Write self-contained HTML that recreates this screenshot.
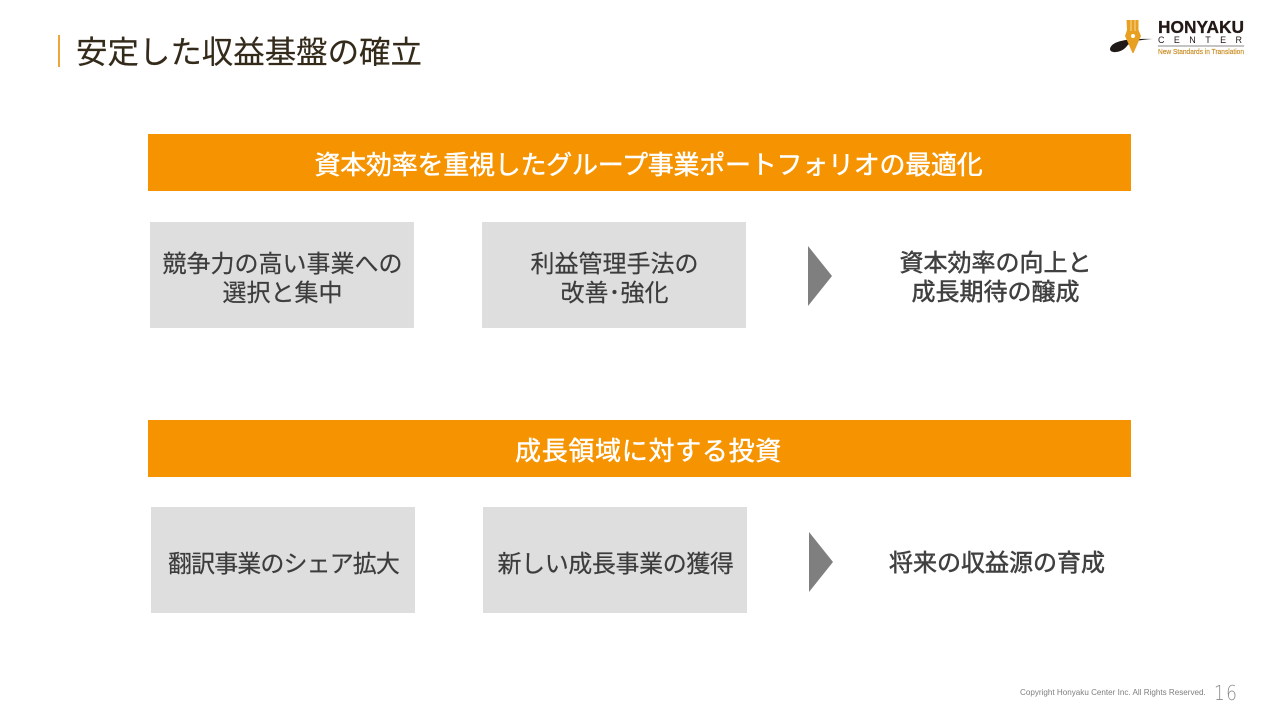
<!DOCTYPE html>
<html lang="ja">
<head>
<meta charset="utf-8">
<style>
html,body{margin:0;padding:0;background:#fff}
#s{position:relative;width:1280px;height:720px;overflow:hidden;background:#fff;font-family:"Liberation Sans","Noto Sans CJK JP",sans-serif}
.a{position:absolute}
.t{position:absolute;white-space:nowrap;text-align:center;transform:translateX(-50%)}
.bar{position:absolute;background:#f59300;left:148px;width:983px;height:56.5px}
.box{position:absolute;background:#dedede;width:264px;height:106px}
.w{color:#fff;font-size:26px;line-height:34px;font-weight:400;-webkit-text-stroke:.45px #fff}
.g{color:#3c3c3c;font-size:24px;line-height:29px;font-weight:400;-webkit-text-stroke:.2px #3c3c3c}
.b{color:#404040;font-size:24px;line-height:29px;font-weight:400;-webkit-text-stroke:.5px #404040}
</style>
</head>
<body>
<div id="s">
<div class="a" style="left:58px;top:35px;width:2px;height:32px;background:#eea63a"></div>
<div class="a" style="left:76px;top:31px;font-size:31.5px;line-height:42px;color:#332a1a;white-space:nowrap;letter-spacing:-.05px;-webkit-text-stroke:.15px #332a1a">安定した収益基盤の確立</div>

<svg class="a" style="left:1105px;top:15px" width="145" height="45" viewBox="1105 15 145 45">
<path d="M1110 49 C1111 43 1120 38 1153 39 C1136 40 1130 42 1127 46 C1122 53 1110 54 1110 49Z" fill="#1f1a17"/>
<path d="M1126.500 20 H1138.500 V30 L1141 36 L1133.500 53 L1132.500 53 L1125 36 L1127 30Z" fill="#e8a020"/>
<path d="M1131 20 V31 M1135 20 V31" stroke="#f6d9a0" stroke-width="1"/>
<circle cx="1133" cy="36" r="2" fill="#fff"/>
<rect x="1158" y="45.500" width="86" height="1" fill="#8a8a8a"/>
<text x="1158" y="33" font-family="Liberation Sans" font-weight="700" font-size="17.500" fill="#231815" stroke="#231815" stroke-width=".3" textLength="86" lengthAdjust="spacingAndGlyphs">HONYAKU</text>
<text x="1158" y="43" font-family="Liberation Sans" font-size="9" fill="#231815" textLength="84">CENTER</text>
<text x="1158" y="54" font-family="Liberation Sans" font-size="7" fill="#c98a1e" stroke="#c98a1e" stroke-width=".15" textLength="86" lengthAdjust="spacingAndGlyphs">New Standards in Translation</text>
</svg>

<div class="bar" style="top:134px"></div>
<div class="t w" style="left:648.5px;top:148px;letter-spacing:-.25px">資本効率を重視したグループ事業ポートフォリオの最適化</div>

<div class="box" style="left:150px;top:222px"></div>
<div class="t g" style="left:282.5px;top:250px">競争力の高い事業への<br>選択と集中</div>
<div class="box" style="left:482px;top:222px"></div>
<div class="t g" style="left:614.5px;top:250px">利益管理手法の<br>改善･強化</div>
<div class="a" style="left:808px;top:246px;width:0;height:0;border-left:24px solid #7f7f7f;border-top:30px solid transparent;border-bottom:30px solid transparent"></div>
<div class="t b" style="left:995.5px;top:249px">資本効率の向上と<br>成長期待の醸成</div>

<div class="bar" style="top:420px"></div>
<div class="t w" style="left:648.5px;top:434px;letter-spacing:.7px">成長領域に対する投資</div>

<div class="box" style="left:151px;top:507px"></div>
<div class="t g" style="left:283.5px;top:550px;letter-spacing:-.9px">翻訳事業のシェア拡大</div>
<div class="box" style="left:483px;top:507px"></div>
<div class="t g" style="left:615.5px;top:550px;letter-spacing:-.4px">新しい成長事業の獲得</div>
<div class="a" style="left:809px;top:532px;width:0;height:0;border-left:24px solid #7f7f7f;border-top:30px solid transparent;border-bottom:30px solid transparent"></div>
<div class="t b" style="left:997px;top:549px">将来の収益源の育成</div>

<div class="a" style="left:1020px;top:687px;font-size:8.1px;line-height:12px;color:#7f7f7f;white-space:nowrap">Copyright Honyaku Center Inc. All Rights Reserved.</div>
<div class="a" style="left:1214px;top:682px;font-size:20px;line-height:22px;color:#8a8a8a;letter-spacing:1.5px;white-space:nowrap;font-family:'DejaVu Sans',sans-serif;font-weight:200;transform:scaleX(.85);transform-origin:left">16</div>
</div>
</body>
</html>
